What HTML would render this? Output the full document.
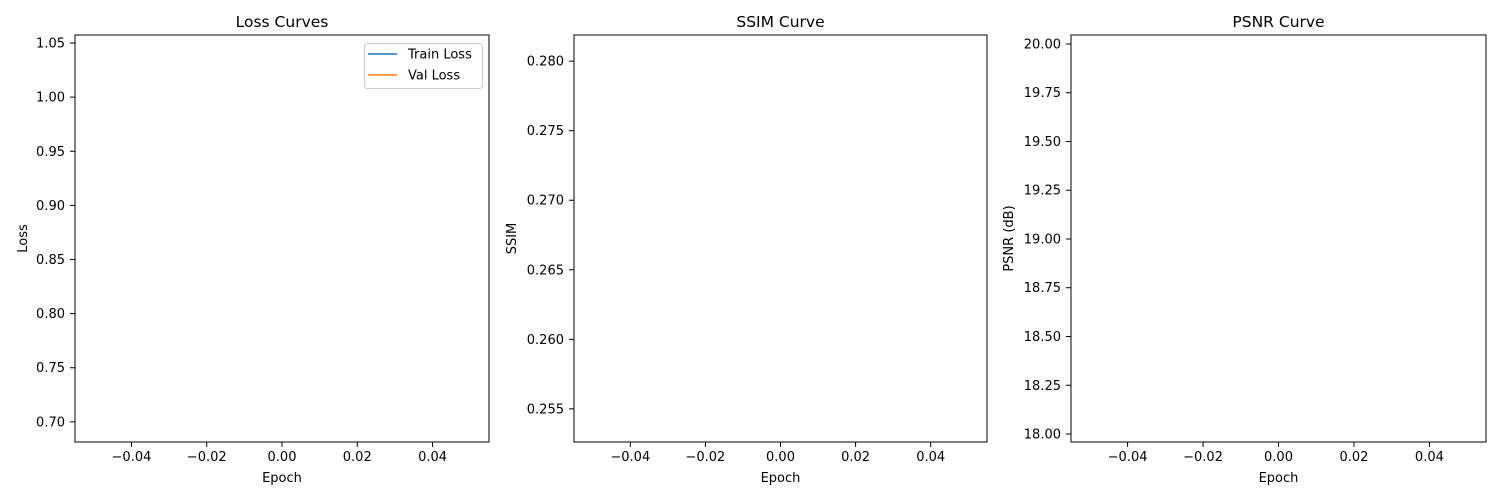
<!DOCTYPE html>
<html><head><meta charset="utf-8"><style>
body{margin:0;background:#fff}
svg{display:block;font-family:"DejaVu Sans","Liberation Sans",sans-serif}
</style></head><body>
<svg id="fig" width="1500" height="500"></svg>
<script>
const epochs=[0];
const trainLoss=[1.0397];
const valLoss=[0.6983];
const ssimVals=[0.26725];
const psnrVals=[19.0025];
const xTicks=[-0.04,-0.02,0,0.02,0.04];
const lossTicks=[0.70,0.75,0.80,0.85,0.90,0.95,1.00,1.05];
const ssimTicks=[0.255,0.260,0.265,0.270,0.275,0.280];
const psnrTicks=[18.00,18.25,18.50,18.75,19.00,19.25,19.50,19.75,20.00];

const NS="http://www.w3.org/2000/svg";
const svg=document.getElementById('fig');
function mk(t,a,p){const e=document.createElementNS(NS,t);for(const k in a)e.setAttribute(k,a[k]);(p||svg).appendChild(e);return e;}
const axTop=35,axBot=442;
function panel(cfg){
  const g=mk('g',{});
  
  
  const sx=v=>cfg.x0+(v-(-0.055))/(0.11)*(cfg.x1-cfg.x0);
  const sy=v=>axBot-(v-cfg.ymin)/(cfg.ymax-cfg.ymin)*(axBot-axTop);
  cfg.series.forEach(s=>{
    const pl=mk('polyline',{points:epochs.map((e,i)=>sx(e)+','+sy(s.vals[i])).join(' '),fill:'none',stroke:s.color,'stroke-width':1.5},g);
    
    
  });
  const fr=mk('rect',{x:cfg.x0,y:axTop,width:cfg.x1-cfg.x0,height:axBot-axTop,fill:'none',stroke:'#000','stroke-width':1},g);
  
  
  xTicks.forEach(t=>{
    const x=sx(t);
    mk('line',{x1:x,x2:x,y1:axBot,y2:axBot+5,stroke:'#000','stroke-width':1},g);
    const tx=mk('text',{x:x,y:axBot+19,'font-size':13,'text-anchor':'middle'},g);
    tx.textContent=(t<0?'\u2212':'')+Math.abs(t).toFixed(2);
    
    
  });
  cfg.ticks.forEach(t=>{
    const y=sy(t);
    mk('line',{x1:cfg.x0-5,x2:cfg.x0,y1:y,y2:y,stroke:'#000','stroke-width':1},g);
    const tx=mk('text',{x:cfg.x0-10,y:y+4.5,'font-size':13,'text-anchor':'end'},g);
    tx.textContent=t.toFixed(cfg.dec);
    
    
  });
  const ti=mk('text',{x:(cfg.x0+cfg.x1)/2,y:27,'font-size':15.5,'text-anchor':'middle'},g);
  ti.textContent=cfg.title;
  
  
  const xl=mk('text',{x:(cfg.x0+cfg.x1)/2,y:482,'font-size':13,'text-anchor':'middle'},g);
  xl.textContent='Epoch';
  
  
  const yc=(axTop+axBot)/2;
  const yl=mk('text',{x:cfg.ylx,y:yc,'font-size':13,'text-anchor':'middle',transform:`rotate(-90 ${cfg.ylx} ${yc})`},g);
  yl.textContent=cfg.ylabel;
  
  
  return g;
}
panel({name:'loss-panel',x0:75,x1:489,ymin:0.6814,ymax:1.0574,ticks:lossTicks,dec:2,title:'Loss Curves',ylabel:'Loss',ylx:27,
  series:[{name:'train-loss-line',vals:trainLoss,color:'#1f77b4'},{name:'val-loss-line',vals:valLoss,color:'#ff7f0e'}]});
panel({name:'ssim-panel',x0:574,x1:987,ymin:0.25262,ymax:0.28188,ticks:ssimTicks,dec:3,title:'SSIM Curve',ylabel:'SSIM',ylx:516,
  series:[{name:'ssim-line',vals:ssimVals,color:'#1f77b4'}]});
panel({name:'psnr-panel',x0:1071,x1:1486,ymin:17.959,ymax:20.046,ticks:psnrTicks,dec:2,title:'PSNR Curve',ylabel:'PSNR (dB)',ylx:1013,
  series:[{name:'psnr-line',vals:psnrVals,color:'#1f77b4'}]});
const lg=mk('g',{});


mk('rect',{x:364.5,y:43.5,width:118,height:45,rx:3,fill:'#fff',stroke:'#ccc','stroke-width':1},lg);
[['Train Loss','#1f77b4',54],['Val Loss','#ff7f0e',75]].forEach(([n,c,y])=>{
  const e=mk('g',{},lg);
  
  
  mk('line',{x1:368,x2:397,y1:y,y2:y,stroke:c,'stroke-width':1.5},e);
  const t=mk('text',{x:408,y:y+4.5,'font-size':13},e);
  t.textContent=n;
});
</script>
</body></html>
